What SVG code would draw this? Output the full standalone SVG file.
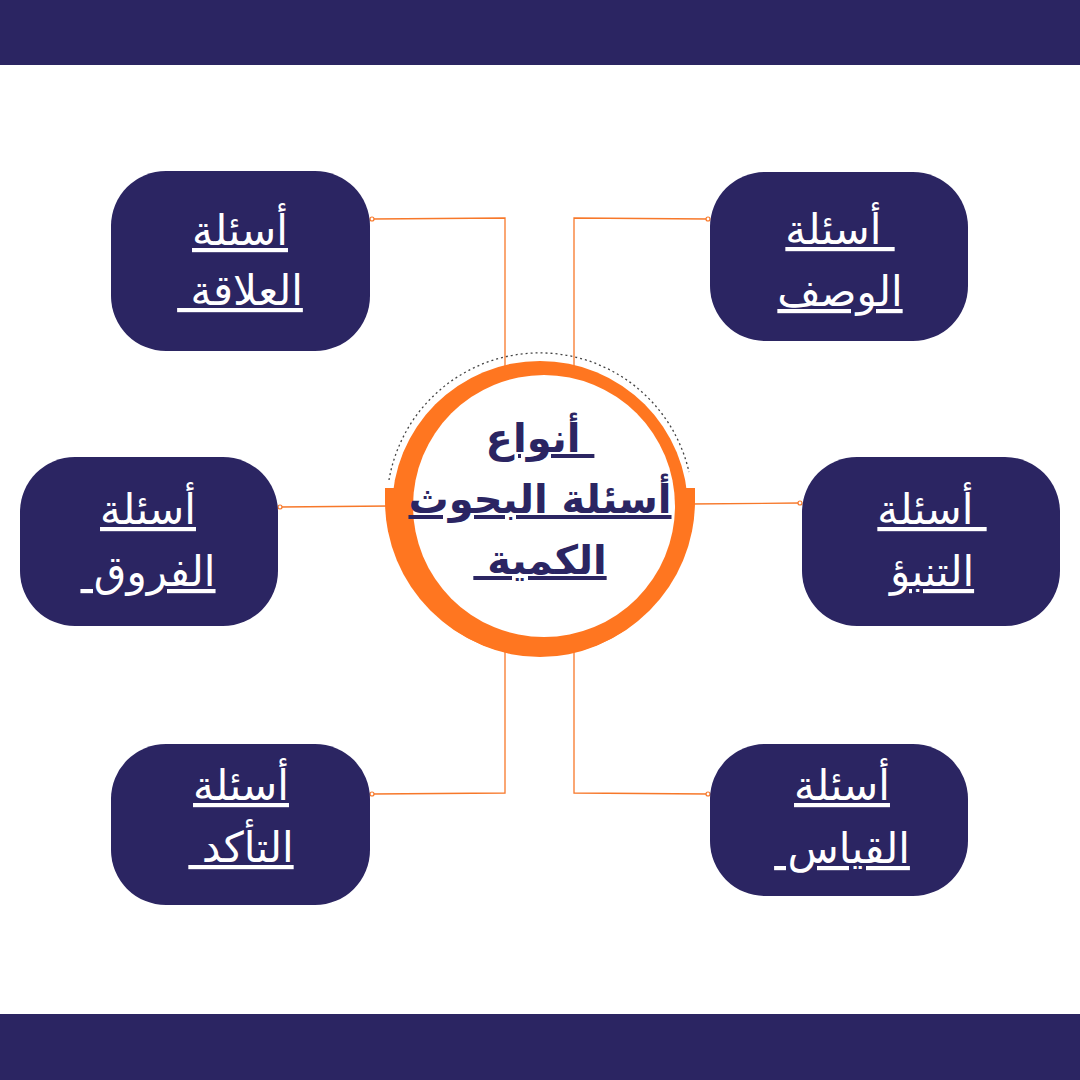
<svg xmlns="http://www.w3.org/2000/svg" width="1080" height="1080" viewBox="0 0 1080 1080">
<style>
.bar{fill:#2B2562}
.box{fill:#2B2562}
.lbl{font-family:"DejaVu Sans",sans-serif;font-size:42px;fill:#FFFFFF;text-anchor:middle;text-decoration:underline;direction:rtl;unicode-bidi:embed}
.ttl{font-family:"DejaVu Sans",sans-serif;font-size:40px;font-weight:bold;fill:#2B2562;text-anchor:middle;text-decoration:underline;direction:rtl;unicode-bidi:embed}
.con{fill:none;stroke:#F7782A;stroke-width:1.3}
.dot{fill:#FFFFFF;stroke:#F7782A;stroke-width:1.2}
</style>
<rect width="1080" height="1080" fill="#FFFFFF"/>
<rect class="bar" x="0" y="0" width="1080" height="65"/>
<rect class="bar" x="0" y="1014" width="1080" height="66"/>

<g id="connectors">
<path class="con" d="M372 219 L505 218 L505 370"/>
<path class="con" d="M708 219 L574 218 L574 370"/>
<path class="con" d="M280 507 L390 506"/>
<path class="con" d="M800 503 L690 504"/>
<path class="con" d="M372 794 L505 793 L505 650"/>
<path class="con" d="M708 794 L574 793 L574 650"/>
<circle class="dot" cx="372" cy="219" r="2"/>
<circle class="dot" cx="708" cy="219" r="2"/>
<circle class="dot" cx="280" cy="507" r="2"/>
<circle class="dot" cx="800" cy="503" r="2"/>
<circle class="dot" cx="372" cy="794" r="2"/>
<circle class="dot" cx="708" cy="794" r="2"/>
</g>

<g id="center">
<path d="M389 480 A153 153 0 0 1 689 472" fill="none" stroke="#444444" stroke-width="1.3" stroke-dasharray="2 3"/>
<circle cx="540" cy="509" r="148" fill="#FF7620"/>
<path d="M385 488 L385 501 A155 155 0 0 0 695 501 L695 488 Z" fill="#FF7620"/>
<circle cx="544" cy="506" r="131" fill="#FFFFFF"/>
<text class="ttl" x="540" y="452" xml:space="preserve"> أنواع</text>
<text class="ttl" x="540" y="513">أسئلة البحوث</text>
<text class="ttl" x="540" y="574" xml:space="preserve">الكمية </text>
</g>

<g id="n-relation">
<rect class="box" x="111" y="171" width="259" height="180" rx="55"/>
<text class="lbl" x="240" y="245">أسئلة</text>
<text class="lbl" x="240" y="305" xml:space="preserve">العلاقة </text>
</g>

<g id="n-description">
<rect class="box" x="710" y="172" width="258" height="169" rx="55"/>
<text class="lbl" x="840" y="244" xml:space="preserve"> أسئلة</text>
<text class="lbl" x="840" y="306">الوصف</text>
</g>

<g id="n-differences">
<rect class="box" x="20" y="457" width="258" height="169" rx="55"/>
<text class="lbl" x="148" y="524">أسئلة</text>
<text class="lbl" x="148" y="586" xml:space="preserve">الفروق </text>
</g>

<g id="n-prediction">
<rect class="box" x="802" y="457" width="258" height="169" rx="55"/>
<text class="lbl" x="932" y="524" xml:space="preserve"> أسئلة</text>
<text class="lbl" x="932" y="586">التنبؤ</text>
</g>

<g id="n-confirmation">
<rect class="box" x="111" y="744" width="259" height="161" rx="55"/>
<text class="lbl" x="241" y="800">أسئلة</text>
<text class="lbl" x="241" y="862" xml:space="preserve">التأكد </text>
</g>

<g id="n-measurement">
<rect class="box" x="710" y="744" width="258" height="152" rx="55"/>
<text class="lbl" x="842" y="800">أسئلة</text>
<text class="lbl" x="842" y="863" xml:space="preserve">القياس </text>
</g>
</svg>
